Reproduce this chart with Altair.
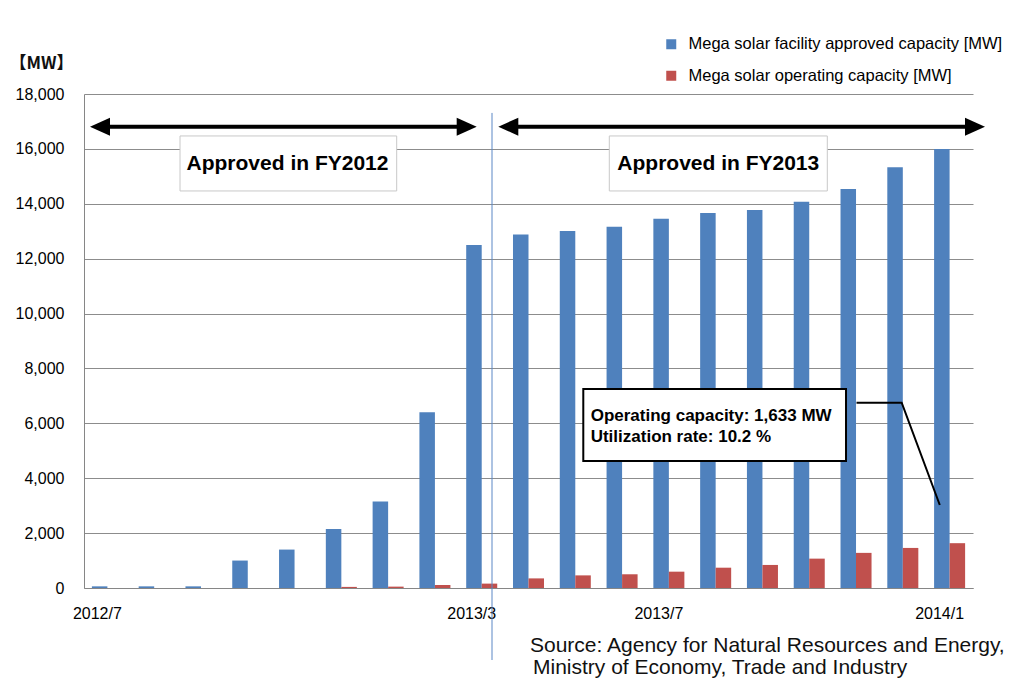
import altair as alt
import pandas as pd

# ---------------- data ----------------
months = ["2012/7", "2012/8", "2012/9", "2012/10", "2012/11", "2012/12",
          "2013/1", "2013/2", "2013/3", "2013/4", "2013/5", "2013/6",
          "2013/7", "2013/8", "2013/9", "2013/10", "2013/11", "2013/12", "2014/1"]
approved = [60, 60, 60, 1000, 1400, 2150, 3150, 6400, 12500, 12880, 13010, 13160,
            13450, 13660, 13770, 14070, 14540, 15330, 16000]
operating = [0, 0, 0, 0, 0, 40, 50, 110, 160, 350, 460, 500,
             595, 740, 840, 1070, 1280, 1460, 1633]
tick_labels = ["2012/7", "2013/3", "2013/7", "2014/1"]
y_ticks = list(range(0, 18001, 2000))

LAB1 = "Mega solar facility approved  capacity [MW]"
LAB2 = "Mega solar operating capacity [MW]"
BLUE = "#4F81BD"
RED = "#C0504D"

df = pd.DataFrame({
    "month": months * 2,
    "series": [LAB1] * len(months) + [LAB2] * len(months),
    "v": approved + operating,
})

FONT = "Liberation Sans"
yscale = alt.Scale(domain=[0, 18000], nice=False, zero=False)
xu = alt.Scale(domain=[0, 19], nice=False, zero=False)  # month-index units for annotations

def X(f="u"):
    return alt.X(f"{f}:Q", scale=xu, axis=None, title=None)

def Y(f="v"):
    return alt.Y(f"{f}:Q", scale=yscale, title=None)

bars = alt.Chart(df).mark_bar().encode(
    x=alt.X("month:N", sort=months,
            scale=alt.Scale(paddingInner=0.337, paddingOuter=0.1685),
            axis=alt.Axis(values=tick_labels, title=None, labelAngle=0, ticks=False, tickSize=0,
                          labelOffset=-10,
                          labelPadding=17, labelFontSize=16, labelFont=FONT,
                          labelColor="#000", domainColor="#868686", grid=False)),
    xOffset=alt.XOffset("series:N", sort=[LAB1, LAB2],
                        scale=alt.Scale(paddingInner=0, paddingOuter=0)),
    y=alt.Y("v:Q", scale=yscale, title=None,
            axis=alt.Axis(values=y_ticks, labelExpr="format(datum.value, ',')",
                          ticks=False, tickSize=0, labelPadding=20,
                          labelFontSize=16, labelFont=FONT, labelColor="#000",
                          gridColor="#8c8c8c", domainColor="#868686")),
    color=alt.Color("series:N", scale=alt.Scale(domain=[LAB1, LAB2], range=[BLUE, RED]),
                    legend=alt.Legend(orient="none", legendX=579, legendY=-58, title=None,
                                      symbolType="square", symbolSize=100, symbolStrokeWidth=0,
                                      labelFontSize=16.5, labelFont=FONT, labelColor="#000",
                                      labelLimit=600, labelOffset=9, rowPadding=14.5, padding=0)),
)

# vertical separator between FY2012 and FY2013
vline = alt.Chart(pd.DataFrame({"u": [8.72], "v": [17310], "v2": [-2624]})).mark_rule(
    color="#5b87c5", strokeWidth=1).encode(x=X(), y=Y(), y2="v2:Q")

# double-headed arrows
arr = pd.DataFrame({"u": [0.128, 8.855], "u2": [8.393, 19.256], "v": [16810, 16810]})
arr["s1"] = arr["u"] + 0.15
arr["s2"] = arr["u2"] - 0.15
shafts = alt.Chart(arr).mark_rule(color="black", strokeWidth=4).encode(
    x=X("s1"), x2="s2:Q", y=Y())
headL = alt.Chart(arr).mark_point(shape="M0,0L2,-0.9L2,0.9Z", size=400, filled=True,
                                  color="black", opacity=1, strokeWidth=0).encode(x=X("u"), y=Y())
headR = alt.Chart(arr).mark_point(shape="M0,0L-2,-0.9L-2,0.9Z", size=400, filled=True,
                                  color="black", opacity=1, strokeWidth=0).encode(x=X("u2"), y=Y())

# FY label boxes
fy = pd.DataFrame({"label": ["Approved in FY2012", "Approved in FY2013"],
                   "u": [2.052, 11.227], "u2": [6.683, 15.886],
                   "v": [16471, 16471], "v2": [14467, 14467],
                   "tu": [4.349, 13.556], "tv": [15232, 15232]})
fybox = alt.Chart(fy).mark_rect(fill="white", stroke="#c8c8c8", strokeWidth=1).encode(
    x=X("u"), x2="u2:Q", y=Y("v"), y2="v2:Q")
fytext = alt.Chart(fy).mark_text(fontSize=21, fontWeight="bold", font=FONT, color="black",
                                 baseline="alphabetic").encode(x=X("tu"), y=Y("tv"), text="label:N")

# callout
cb = pd.DataFrame({"u": [10.671], "u2": [16.286], "v": [7252], "v2": [4628]})
cbox = alt.Chart(cb).mark_rect(fill="white", stroke="black", strokeWidth=2).encode(
    x=X("u"), x2="u2:Q", y=Y("v"), y2="v2:Q")
ct = pd.DataFrame({"t": ["Operating capacity: 1,633 MW", "Utilization rate: 10.2 %"],
                   "u": [10.829, 10.829], "v": [6085, 5331]})
ctext = alt.Chart(ct).mark_text(align="left", baseline="alphabetic", fontSize=17,
                                fontWeight="bold", font=FONT, color="black").encode(
    x=X(), y=Y(), text="t:N")
ld = pd.DataFrame({"k": [0, 1, 2], "u": [16.51, 17.476, 18.29], "v": [6752, 6752, 3025]})
leader = alt.Chart(ld).mark_line(color="black", strokeWidth=2).encode(
    x=X(), y=Y(), order="k:O")

# unit label and source
mw = alt.Chart(pd.DataFrame({"t": ["【MW】"], "u": [-0.908], "v": [19077]})).mark_text(
    fontSize=17, fontWeight="bold", font="Noto Sans CJK JP", color="#111",
    baseline="middle").encode(x=X(), y=Y(), text="t:N")
src = pd.DataFrame({"t": ["Source: Agency for Natural Resources and Energy,",
                          "Ministry of Economy, Trade and Industry"],
                    "u": [9.532, 9.596], "v": [-2332, -3134]})
source = alt.Chart(src).mark_text(align="left", baseline="alphabetic", fontSize=21,
                                  font=FONT, color="#111").encode(x=X(), y=Y(), text="t:N")

chart = alt.layer(bars, vline, shafts, headL, headR, fybox, fytext, cbox, ctext, leader, mw, source
                  ).resolve_scale(x="independent").properties(
    width=889, height=494,
    padding={"left": 76, "top": 86, "right": 38, "bottom": 90},
    autosize=alt.AutoSizeParams(type="none"),
).configure_view(stroke=None)

chart.save("out.html", embed_options={"renderer": "svg", "actions": False})
